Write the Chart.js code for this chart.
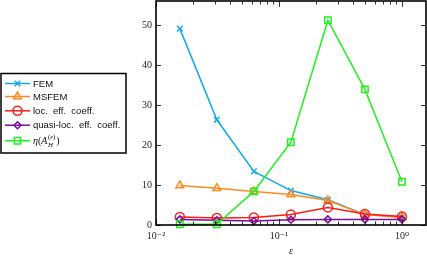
<!DOCTYPE html>
<html><head><meta charset="utf-8">
<script src="https://cdn.jsdelivr.net/npm/chart.js@4/dist/chart.umd.min.js"></script>
<style>html,body{margin:0;padding:0;background:#fff}#wrap{width:427px;height:258px}</style>
</head><body><div id="wrap"><canvas id="c" width="427" height="258"></canvas></div>
<script>
// ---- data ----
const eps = [1/64, 1/32, 1/16, 1/8, 1/4, 1/2, 1];
const fem = [49.1, 26.3, 13.4, 8.6, 6.3, 2.6, 2.0];
const msfem = [9.9, 9.2, 8.4, 7.6, 6.1, 2.6, 1.9];
const locEff = [2.0, 1.75, 1.9, 2.6, 4.4, 2.75, 2.15];
const quasiLocEff = [1.4, 1.2, 1.0, 1.3, 1.4, 1.4, 1.4];
const etaA = [0.2, 0.2, 8.4, 20.7, 51.2, 33.9, 10.8];
const seriesNames = ['FEM', 'MSFEM', 'loc.  eff.  coeff.', 'quasi-loc.  eff.  coeff.', 'η(A_H^(ε))'];
const yTicks = [0, 10, 20, 30, 40, 50];
const xMajorTicks = [0.01, 0.1, 1];
const xTickLabels = ['10⁻²', '10⁻¹', '10⁰'];
const xAxisTitle = 'ε';

const colors = ['#12a8f0', '#ff8a1c', '#ff1a1a', '#7a0f96', '#1ff01f'];
const styles = ['crossRot', 'triangle', 'circle', 'rectRot', 'rect'];
const radii = [4, 4.5, 4.5, 3.5, 4.5];
const allSeries = [fem, msfem, locEff, quasiLocEff, etaA];

const datasets = allSeries.map((s, k) => ({
  label: seriesNames[k],
  data: eps.map((x, i) => ({x: x, y: s[i]})),
  borderColor: colors[k],
  backgroundColor: 'rgba(0,0,0,0)',
  pointBorderColor: colors[k],
  pointBackgroundColor: 'rgba(0,0,0,0)',
  pointStyle: styles[k],
  pointRadius: radii[k],
  pointBorderWidth: 1.5,
  borderWidth: 1.5,
  tension: 0,
  clip: false,
  order: 5 - k
}));

const framePlugin = {
  id: 'frameTicks',
  afterDraw(chart) {
    const ctx = chart.ctx, a = chart.chartArea;
    const xs = chart.scales.x, ys = chart.scales.y;
    ctx.save();
    ctx.strokeStyle = '#000';
    ctx.lineWidth = 0.8;
    xs.ticks.forEach(t => {
      const v = t.value;
      const e = Math.floor(Math.log10(v) + 1e-9);
      const m = v / Math.pow(10, e);
      if (Math.abs(m - Math.round(m)) > 1e-6) return;
      const major = Math.round(m) === 1;
      const len = major ? 6 : 3.5;
      const px = Math.round(xs.getPixelForValue(v)) + 0.5;
      ctx.beginPath();
      ctx.moveTo(px, a.bottom); ctx.lineTo(px, a.bottom - len);
      ctx.moveTo(px, a.top); ctx.lineTo(px, a.top + len);
      ctx.stroke();
    });
    ys.ticks.forEach(t => {
      const py = Math.round(ys.getPixelForValue(t.value)) + 0.5;
      ctx.beginPath();
      ctx.moveTo(a.left, py); ctx.lineTo(a.left + 5, py);
      ctx.moveTo(a.right, py); ctx.lineTo(a.right - 5, py);
      ctx.stroke();
    });
    ctx.lineWidth = 1.6;
    ctx.strokeRect(a.left, a.top, a.right - a.left, a.bottom - a.top);

    // legend
    const bx = 1, by = 73.5, bw = 125, bh = 79.5;
    ctx.fillStyle = '#fff';
    ctx.fillRect(bx, by, bw, bh);
    ctx.lineWidth = 1.5;
    ctx.strokeStyle = '#000';
    ctx.strokeRect(bx, by, bw, bh);
    const rows = [83.5, 96.5, 110.8, 125.2, 140.8];
    datasets.forEach((d, k) => {
      const y = rows[k];
      ctx.strokeStyle = d.borderColor;
      ctx.lineWidth = 1.5;
      ctx.beginPath(); ctx.moveTo(5, y); ctx.lineTo(30, y); ctx.stroke();
      ctx.fillStyle = 'rgba(0,0,0,0)';
      Chart.helpers.drawPoint(ctx, {pointStyle: d.pointStyle, radius: d.pointRadius, rotation: 0, borderWidth: 1.5}, 17.5, y);
      ctx.fillStyle = '#111';
      ctx.textBaseline = 'middle';
      ctx.textAlign = 'left';
      if (k < 4) {
        ctx.font = '9.5px "Liberation Sans", Arial, sans-serif';
        ctx.fillText(d.label, 33, y + 0.5);
      } else {
        let x = 33;
        ctx.font = 'italic 10px "Liberation Serif", "DejaVu Serif", serif';
        ctx.fillText('η', x, y + 1); x += ctx.measureText('η').width;
        ctx.font = '10px "Liberation Serif", "DejaVu Serif", serif';
        ctx.fillText('(', x, y + 1); x += ctx.measureText('(').width;
        ctx.font = 'italic 10px "Liberation Serif", "DejaVu Serif", serif';
        ctx.fillText('A', x, y + 1); x += ctx.measureText('A').width + 0.5;
        ctx.font = '7px "Liberation Serif", "DejaVu Serif", serif';
        ctx.fillText('(', x, y - 4);
        let w1 = ctx.measureText('(').width;
        ctx.font = 'italic 7px "Liberation Serif", "DejaVu Serif", serif';
        ctx.fillText('ε', x + w1, y - 4);
        let w2 = ctx.measureText('ε').width;
        ctx.font = '7px "Liberation Serif", "DejaVu Serif", serif';
        ctx.fillText(')', x + w1 + w2, y - 4);
        let supW = w1 + w2 + ctx.measureText(')').width;
        ctx.font = 'italic 7px "Liberation Serif", "DejaVu Serif", serif';
        ctx.fillText('H', x, y + 4);
        let subW = ctx.measureText('H').width;
        x += Math.max(supW, subW) + 1;
        ctx.font = '10px "Liberation Serif", "DejaVu Serif", serif';
        ctx.fillText(')', x, y + 1);
      }
    });
    ctx.restore();
  }
};

function noPad(s) { s.paddingTop = 0; s.paddingBottom = 0; s.paddingLeft = 0; s.paddingRight = 0; }

new Chart(document.getElementById('c'), {
  type: 'line',
  data: {datasets},
  options: {
    responsive: false,
    devicePixelRatio: 1,
    animation: false,
    layout: {autoPadding: false, padding: {left: 126, top: 1, right: 1, bottom: 0}},
    plugins: {legend: {display: false}, tooltip: {enabled: false}},
    scales: {
      x: {
        type: 'logarithmic',
        min: 0.01, max: 1.57,
        grid: {display: false, drawTicks: false},
        border: {display: false},
        afterFit: s => { s.height = 33; noPad(s); },
        afterBuildTicks: s => {
          const t = [];
          for (let e = -2; e <= 0; e++) for (let m = 1; m <= 9; m++) {
            const v = +(m * Math.pow(10, e)).toPrecision(6);
            if (v <= 1.57) t.push({value: v});
          }
          s.ticks = t;
        },
        ticks: {
          autoSkip: false, maxRotation: 0, padding: 5,
          color: '#222',
          font: {family: '"Liberation Serif", "DejaVu Serif", serif', size: 10},
          callback: function(v) {
            const i = xMajorTicks.findIndex(m => Math.abs(m - v) < 1e-9);
            return i >= 0 ? xTickLabels[i] : '';
          }
        },
        title: {display: true, text: xAxisTitle, color: '#222',
          font: {family: '"Liberation Serif", "DejaVu Serif", serif', size: 10, style: 'italic'},
          padding: {top: 0, bottom: 1}}
      },
      y: {
        type: 'linear',
        min: 0, max: 56,
        grid: {display: false, drawTicks: false},
        border: {display: false},
        afterFit: s => { s.width = 30; noPad(s); },
        afterBuildTicks: s => { s.ticks = yTicks.map(v => ({value: v})); },
        ticks: {
          padding: 4, color: '#222',
          font: {family: '"Liberation Serif", "DejaVu Serif", serif', size: 10}
        }
      }
    }
  },
  plugins: [framePlugin]
});
</script>
</body></html>
